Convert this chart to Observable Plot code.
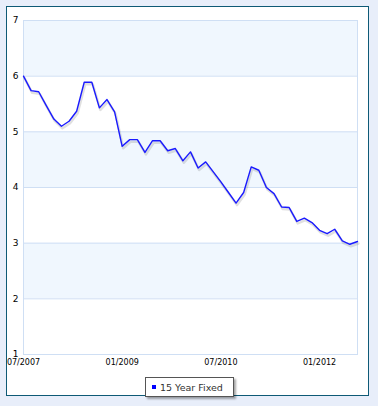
<!DOCTYPE html>
<html><head><meta charset="utf-8">
<script src="https://cdn.jsdelivr.net/npm/d3@7"></script>
<script src="https://cdn.jsdelivr.net/npm/@observablehq/plot@0.6"></script>
<style>
html,body{margin:0;padding:0;background:#e8eefa;}
#wrap{position:relative;width:378px;height:406px;overflow:hidden;background:#e8eefa;}
#frame{position:absolute;left:6px;top:6px;width:361px;height:388px;border:1.5px solid #0e5a76;background:#fff;}
#chart{position:absolute;left:0;top:0;}
#legend{position:absolute;left:145px;top:377px;width:87px;height:18px;border:1px solid #555;background:#fff;box-shadow:2px 2px 2px rgba(0,0,0,0.35);font:9.5px "DejaVu Sans",sans-serif;color:#333;display:flex;align-items:center;box-sizing:content-box;}
#legend .sw{display:inline-block;width:4px;height:4px;background:#0000ff;margin-left:6px;margin-right:4px;}
</style>
</head><body>
<div id="wrap">
  <div id="frame"></div>
  <div id="chart"></div>
  <div id="legend"><span class="sw"></span><span>15 Year Fixed</span></div>
</div>
<script>
// 15 Year Fixed rate, one reading per point (approx. every 6 weeks), 07/2007 onward
const seriesName = "15 Year Fixed";
const rates = [6.00, 5.74, 5.72, 5.47, 5.23, 5.10, 5.19, 5.37, 5.89, 5.89,
               5.43, 5.58, 5.36, 4.74, 4.86, 4.86, 4.63, 4.84, 4.84, 4.66,
               4.70, 4.48, 4.64, 4.35, 4.46, 4.28, 4.10, 3.91, 3.72, 3.91,
               4.37, 4.31, 4.00, 3.89, 3.65, 3.64, 3.39, 3.45, 3.37, 3.23,
               3.17, 3.25, 3.04, 2.98, 3.03];
const xTickPos = [0, 13, 26, 39];
const xTickLabels = ["07/2007", "01/2009", "07/2010", "01/2012"];
const yTicks = [1, 2, 3, 4, 5, 6, 7];
const bandLo = [6, 4, 2];
const bandHi = [7, 5, 3];

const data = rates.map((v, i) => ({i, v}));
const bands = bandLo.map((lo, k) => ({lo, hi: bandHi[k]}));

const chart = Plot.plot({
  width: 378,
  height: 406,
  marginLeft: 23,
  marginRight: 21,
  marginTop: 20,
  marginBottom: 52,
  style: {background: "transparent", fontFamily: "DejaVu Sans, sans-serif", overflow: "visible"},
  x: {domain: [0, rates.length - 1]},
  y: {domain: [1, 7]},
  marks: [
    Plot.rect(bands, {y1: "lo", y2: "hi", fill: "#f0f7fe"}),
    Plot.gridY(yTicks, {stroke: "#cfdff4", strokeOpacity: 1}),
    Plot.frame({stroke: "#cfdff4"}),
    Plot.line(data, {x: "i", y: "v", stroke: "#555", strokeOpacity: 0.18, strokeWidth: 2.5, dx: 1, dy: 2}),
    Plot.line(data, {x: "i", y: "v", stroke: "#1a1aff", strokeWidth: 1.4}),
    Plot.axisY(yTicks, {tickSize: 0, tickPadding: 5, fontSize: 9, fill: "#000", label: null,
      tickFormat: d => String(d)}),
    Plot.axisX(xTickPos, {tickSize: 0, tickPadding: 5, fontSize: 8, fill: "#000", label: null,
      tickFormat: d => xTickLabels[xTickPos.indexOf(d)]})
  ]
});
document.getElementById("chart").appendChild(chart);
</script>
</body></html>
